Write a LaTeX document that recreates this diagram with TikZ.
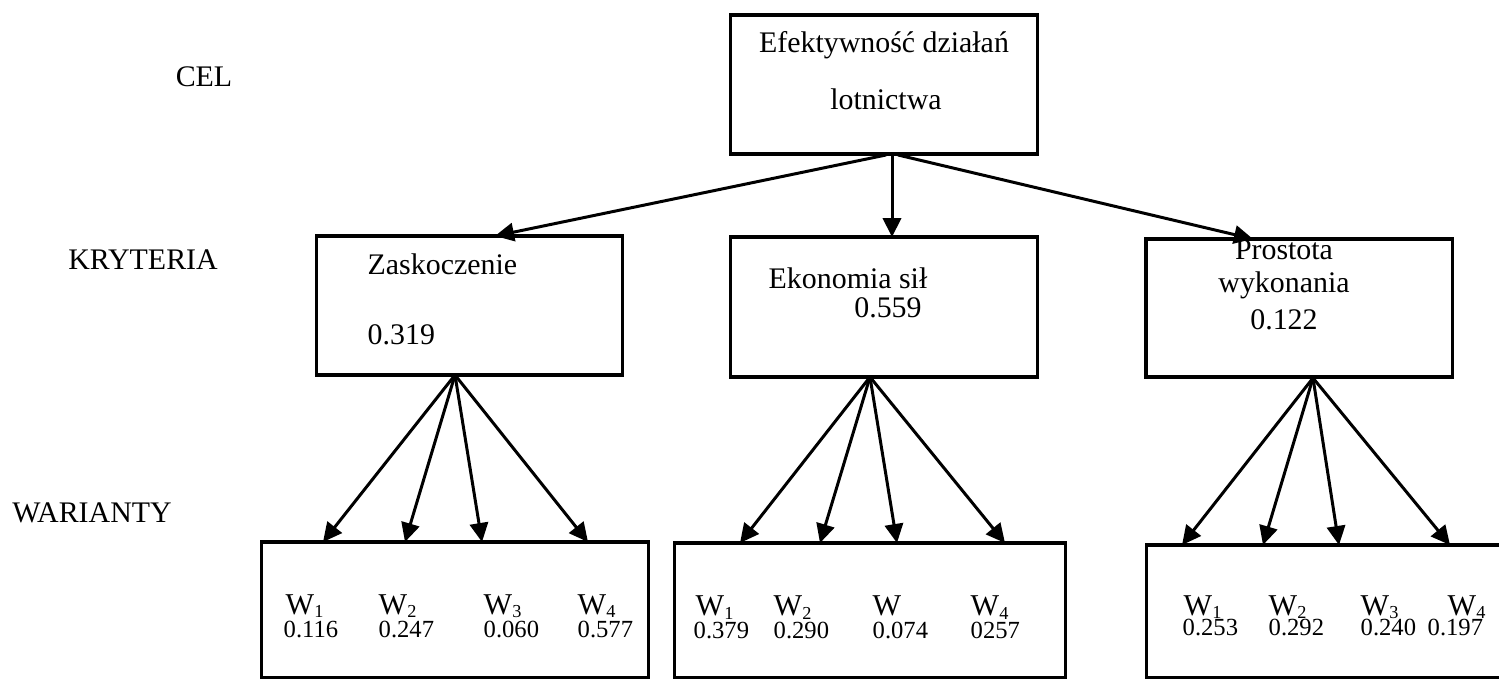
\documentclass[tikz,border=0pt]{standalone}
\usepackage{fontspec}
\setmainfont{Liberation Serif}
\usetikzlibrary{arrows.meta}
% variant name with a low, small index
\newcommand{\wvar}[1]{W\raisebox{-0.9pt}{\fontsize{5.2}{6}\selectfont #1}}
\begin{document}
\begin{tikzpicture}[x=0.01cm,y=-0.01cm,
  box/.style={draw,line width=0.9pt,rectangle,inner sep=0pt,outer sep=0pt},
  lbl/.style={font=\fontsize{8.5}{10}\selectfont,inner sep=0pt,anchor=base},
  lblw/.style={font=\fontsize{8.5}{10}\selectfont,inner sep=0pt,anchor=base west},
  wname/.style={font=\fontsize{8.6}{10}\selectfont,inner sep=0pt,anchor=base west},
  wval/.style={font=\fontsize{7}{8}\selectfont,inner sep=0pt,anchor=base west},
  arr/.style={line width=0.85pt,-{Triangle[length=5.4pt,width=5.2pt]}}]
\useasboundingbox (0,0) rectangle (1499,679);
\clip (0,0) rectangle (1499,679);

% level names
\node[lbl] (tcel) at (204,87) {CEL};
\node[lbl] (tkry) at (143,270) {KRYTERIA};
\node[lbl] (twar) at (92,522) {WARIANTY};

% goal
\node[box,minimum width=3.06cm,minimum height=1.39cm] (cel) at (884,84.5) {};
\node[lbl] (cel1) at (884,53) {Efektywność działań};
\node[lbl] (cel2) at (886,110) {lotnictwa};

% criteria
\node[box,minimum width=3.05cm,minimum height=1.39cm] (zas) at (469.5,305.5) {};
\node[lblw] (zas1) at (367,275) {Zaskoczenie};
\node[lblw] (zas2) at (367,345) {0.319};

\node[box,minimum width=3.06cm,minimum height=1.40cm] (eko) at (884,307) {};
\node[lblw] (eko1) at (768,289) {Ekonomia sił};
\node[lbl] (eko2) at (888,318) {0.559};

\node[box,minimum width=3.06cm,minimum height=1.38cm] (pro) at (1299,308) {};
\node[lbl] (pro1) at (1284,260) {Prostota};
\node[lbl] (pro2) at (1284,293) {wykonania};
\node[lbl] (pro3) at (1284,330) {0.122};

% variants
\node[box,minimum width=3.86cm,minimum height=1.36cm] (wa) at (455,610) {};
\node[box,minimum width=3.90cm,minimum height=1.35cm] (wb) at (870,610.5) {};
\node[box,minimum width=3.93cm,minimum height=1.33cm] (wc) at (1343.5,611.5) {};

\node[wname] (wa1) at (285,614) {\wvar{1}};
\node[wname] (wa2) at (378,614) {\wvar{2}};
\node[wname] (wa3) at (483,614) {\wvar{3}};
\node[wname] (wa4) at (577,614) {\wvar{4}};
\node[wval] (va1) at (283,637) {0.116};
\node[wval] (va2) at (378,637) {0.247};
\node[wval] (va3) at (483,637) {0.060};
\node[wval] (va4) at (577,637) {0.577};

\node[wname] (wb1) at (695,616) {\wvar{1}};
\node[wname] (wb2) at (773,616) {\wvar{2}};
\node[wname] (wb3) at (872,616) {W};
\node[wname] (wb4) at (970,616) {\wvar{4}};
\node[wval] (vb1) at (693,638) {0.379};
\node[wval] (vb2) at (773,638) {0.290};
\node[wval] (vb3) at (872,638) {0.074};
\node[wval] (vb4) at (970,638) {0257};

\node[wname] (wc1) at (1183,615) {\wvar{1}};
\node[wname] (wc2) at (1268,615) {\wvar{2}};
\node[wname] (wc3) at (1360,615) {\wvar{3}};
\node[wname] (wc4) at (1447,615) {\wvar{4}};
\node[wval] (vc1) at (1182,636) {0.253};
\node[wval] (vc2) at (1268,636) {0.292};
\node[wval] (vc3) at (1360,636) {0.240};
\node[wval] (vc4) at (1427,636) {0.197};

% connector end points
\coordinate (c0) at (886,155);
\coordinate (c1) at (892,155);
\coordinate (c2) at (898,155);
\coordinate (za) at (495,236);
\coordinate (ek) at (892,237);
\coordinate (pr) at (1253,239);

\coordinate (zo) at (455,375);
\coordinate (eo) at (870,377);
\coordinate (po) at (1313,378);

\coordinate (ta1) at (323,542);
\coordinate (ta2) at (405,542);
\coordinate (ta3) at (482,542);
\coordinate (ta4) at (588,542);
\coordinate (tb1) at (740,543);
\coordinate (tb2) at (820,543);
\coordinate (tb3) at (897,543);
\coordinate (tb4) at (1005,543);
\coordinate (tc1) at (1182,545);
\coordinate (tc2) at (1263,545);
\coordinate (tc3) at (1339,545);
\coordinate (tc4) at (1450,545);

% goal to criteria
\draw[arr] (c0) -- (za);
\draw[arr] (c1) -- (ek);
\draw[arr] (c2) -- (pr);

% criteria to variants
\foreach \t in {ta1,ta2,ta3,ta4} \draw[arr] (zo) -- (\t);
\foreach \t in {tb1,tb2,tb3,tb4} \draw[arr] (eo) -- (\t);
\foreach \t in {tc1,tc2,tc3,tc4} \draw[arr] (po) -- (\t);
\end{tikzpicture}
\end{document}
